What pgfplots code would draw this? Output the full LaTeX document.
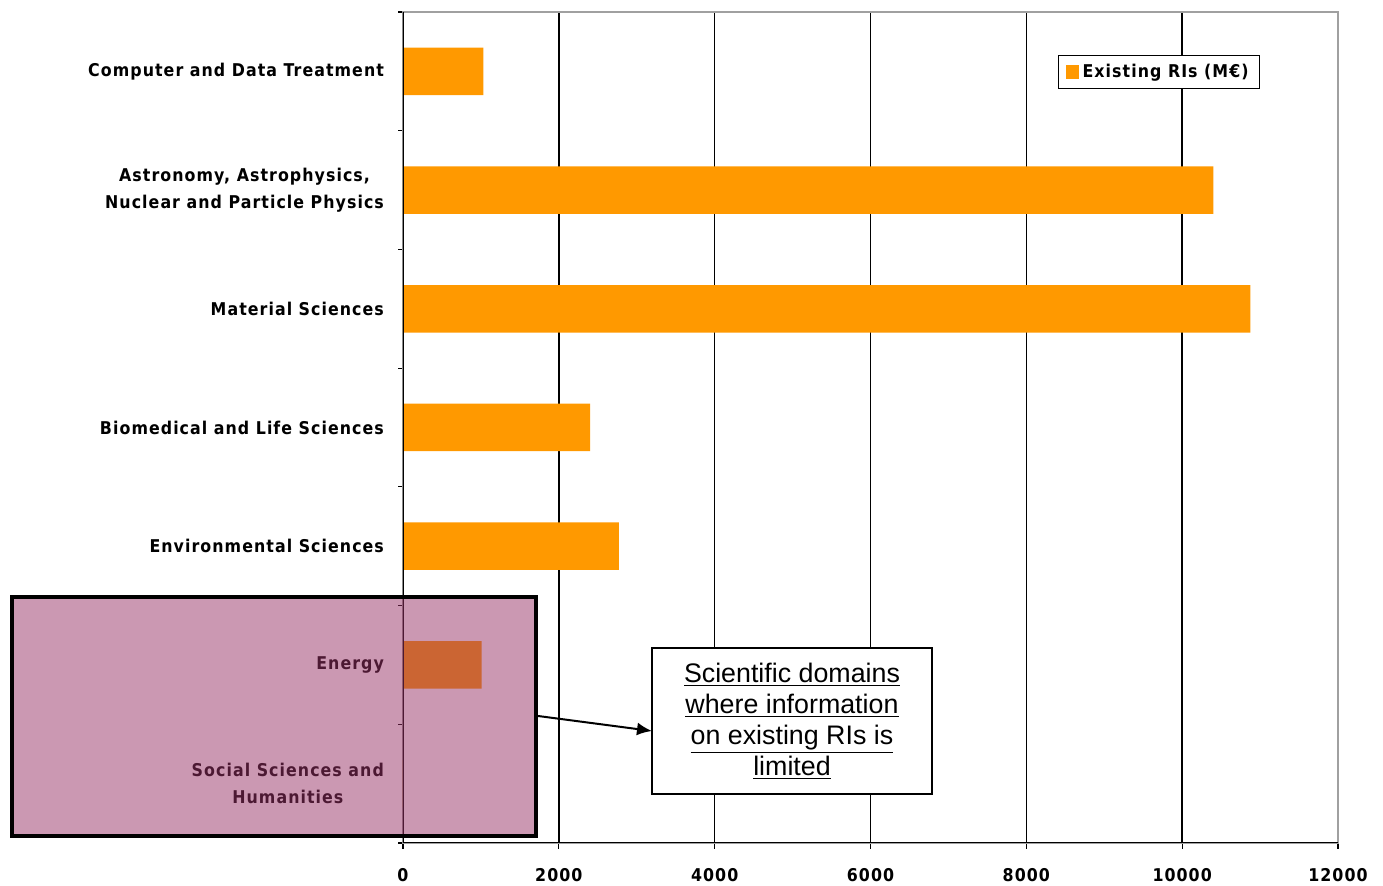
\documentclass[border=0pt]{standalone}
\usepackage{pgfplots}
\pgfplotsset{compat=1.18}
\usepackage{fontspec}
\setmainfont{Liberation Sans}
\newfontfamily\labfont{DejaVu Sans Condensed}[BoldFont={DejaVu Sans Condensed Bold}, LetterSpace=6]
\usetikzlibrary{arrows.meta}
\definecolor{barorange}{HTML}{FF9900}
\definecolor{plum}{HTML}{993366}
\definecolor{framegray}{HTML}{A0A0A0}
\newcommand{\labset}{\labfont\bfseries\fontsize{8.8}{13.5}\selectfont}

\begin{document}
\begin{tikzpicture}[x=0.5pt,y=0.5pt]
\path[use as bounding box, fill=white] (0,0) rectangle (1383,886);
\begin{axis}[
  at={(201.5pt,21.5pt)}, anchor=south west,
  scale only axis, width=467.5pt, height=415.5pt,
  xbar, bar width=0.4,
  xmin=0, xmax=12000, ymin=-0.5, ymax=6.5,
  xtick={0,2000,...,12000},
  scaled x ticks=false,
  ytick={0,...,6},
  yticklabels={{Social Sciences and\\Humanities},
               {Energy},
               {Environmental Sciences},
               {Biomedical and Life Sciences},
               {Material Sciences},
               {Astronomy, Astrophysics,\\Nuclear and Particle Physics},
               {Computer and Data Treatment}},
  minor ytick={-0.5,0.5,...,6.5},
  major y tick style={draw=none},
  minor y tick style={black, line width=0.6pt},
  minor tick length=2.5pt,
  major tick length=3pt,
  tick align=outside,
  xtick pos=bottom, ytick pos=left,
  x tick style={black, line width=0.6pt},
  xmajorgrids,
  grid style={black, line width=0.7pt},
  axis line style={framegray, line width=0.6pt},
  /pgf/number format/assume math mode=true,
  /pgf/number format/1000 sep={},
  xticklabel style={font=\labset, yshift=-6pt},
  yticklabel style={font=\labset, align=center, xshift=-3pt},
  legend style={at={(0.7005,0.948)}, anchor=north west, draw=black,
    line width=0.6pt, font=\labset, inner xsep=3.5pt, inner ysep=2pt},
  legend image code/.code={\fill[barorange] (0pt,-3.3pt) rectangle (6.5pt,3.3pt);},
]
\addplot[fill=barorange, draw=none]
  coordinates {(0,0) (1010,1) (2770,2) (2400,3) (10875,4) (10400,5) (1030,6)};
\addlegendentry{Existing RIs (M\texteuro)}
% frame: black bottom and left, grey top and right
\draw[framegray, line width=0.7pt] (axis cs:12000,-0.5) -- (axis cs:12000,6.5);
\draw[black, line width=0.7pt] (rel axis cs:0,0) -- (rel axis cs:1,0);
\draw[black, line width=0.7pt] (rel axis cs:0,0) -- (rel axis cs:0,1);
\end{axis}
% highlighted domains with limited information
\fill[plum, fill opacity=0.5] (11.5,50) rectangle (536,289);
\draw[black, line width=2pt] (11.5,50) rectangle (536,289);
\draw[black, line width=1pt, -{Latex[length=7.5pt,width=6.5pt]}] (538,170) -- (652,155);
\draw[black, line width=1pt, fill=white] (652,92) rectangle (932,238);
\node[align=center, font=\fontsize{13.4}{15.5}\selectfont] at (792,165)
  {\underline{Scientific domains}\\\underline{where information}\\\underline{on existing RIs is}\\\underline{limited}};
\end{tikzpicture}
\end{document}
